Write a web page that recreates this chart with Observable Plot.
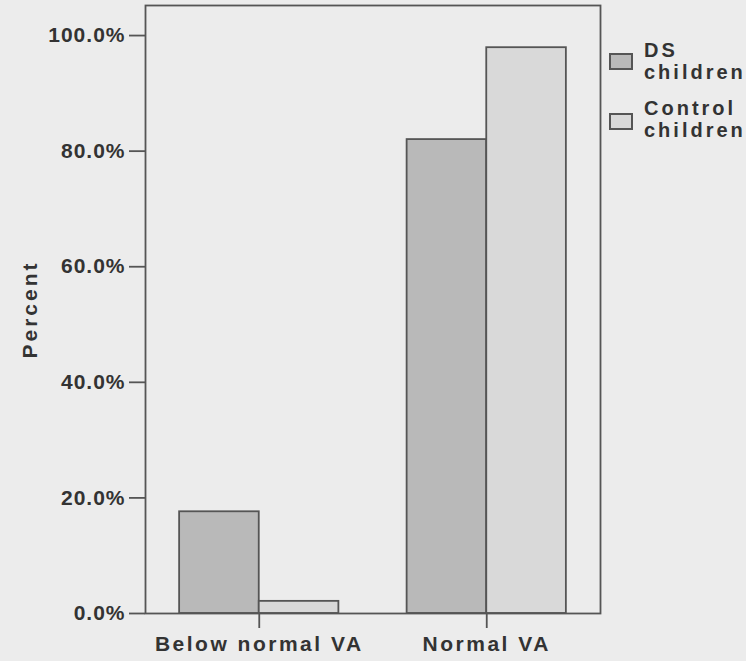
<!DOCTYPE html>
<html>
<head>
<meta charset="utf-8">
<script src="https://cdn.jsdelivr.net/npm/d3@7"></script>
<script src="https://cdn.jsdelivr.net/npm/@observablehq/plot@0.6"></script>
<style>
  html, body { margin: 0; padding: 0; background: #ececec; overflow: hidden; }
  #wrap { position: relative; width: 746px; height: 661px; background: #ececec; overflow: hidden; }
  #legend { position: absolute; left: 0; top: 0; font-family: "Liberation Sans", Arial, sans-serif; font-weight: bold; color: #333; }
  .sw { position: absolute; width: 20px; height: 13px; border: 2px solid #555; box-sizing: content-box; }
  .txt { position: absolute; font-size: 20px; line-height: 22px; letter-spacing: 3px; white-space: nowrap; }
  svg g[aria-label="y-axis tick label"] { letter-spacing: 1px; }
  svg g[aria-label="x-axis tick label"] { letter-spacing: 2.5px; }
  svg g[aria-label="y-axis label"] { letter-spacing: 3px; }
</style>
</head>
<body>
<div id="wrap"><div id="legend"></div></div>
<script>
// ---- data ----
const categories = ["Below normal VA", "Normal VA"];
const seriesNames = ["DS children", "Control children"];
const dsValues = [17.6, 82.0];
const controlValues = [2.1, 97.9];
const yTicks = [0, 20, 40, 60, 80, 100];
const seriesColors = ["#b9b9b9", "#d9d9d9"];

// build table: each category at index position i + 0.5, DS left of center, Control right
const halfWidth = 0.35;
const rows = [];
categories.forEach((c, i) => {
  rows.push({category: c, series: seriesNames[0], value: dsValues[i], x1: i + 0.5 - halfWidth, x2: i + 0.5});
  rows.push({category: c, series: seriesNames[1], value: controlValues[i], x1: i + 0.5, x2: i + 0.5 + halfWidth});
});
const catPositions = categories.map((c, i) => i + 0.5);

const chart = Plot.plot({
  width: 746,
  height: 661,
  marginLeft: 145,
  marginRight: 146,
  marginTop: 5,
  marginBottom: 48,
  style: {
    background: "transparent",
    fontFamily: "'Liberation Sans', Arial, sans-serif",
    fontSize: "21px",
    fontWeight: "bold",
    color: "#333",
    overflow: "visible"
  },
  x: {type: "linear", domain: [0, categories.length], axis: null},
  y: {domain: [0, 105.2], axis: null},
  color: {domain: seriesNames, range: seriesColors},
  marks: [
    Plot.rectY(rows, {x1: "x1", x2: "x2", y1: 0, y2: "value", fill: "series", stroke: "#555", strokeWidth: 1.8}),
    Plot.frame({stroke: "#555", strokeWidth: 1.8}),
    Plot.axisY(yTicks, {
      tickSize: 16, tickPadding: 4, strokeWidth: 1.8, stroke: "#555",
      tickFormat: d => d.toFixed(1) + "%",
      label: "Percent", labelAnchor: "center", labelArrow: "none", labelOffset: 123
    }),
    Plot.axisX(catPositions, {
      tickSize: 15, tickPadding: 8, strokeWidth: 1.8, stroke: "#555",
      tickFormat: d => categories[Math.floor(d)],
      label: null
    })
  ]
});
document.getElementById("wrap").prepend(chart);

// legend (HTML, to the right of the frame)
const legend = document.getElementById("legend");
const swatchTops = [53, 113];
const textTops = [39, 97];
seriesNames.forEach((name, i) => {
  const sw = document.createElement("div");
  sw.className = "sw";
  sw.style.left = "609px";
  sw.style.top = swatchTops[i] + "px";
  sw.style.background = seriesColors[i];
  legend.appendChild(sw);
  const t = document.createElement("div");
  t.className = "txt";
  t.style.left = "644px";
  t.style.top = textTops[i] + "px";
  t.innerHTML = name.split(" ").join("<br>");
  legend.appendChild(t);
});
</script>
</body>
</html>
